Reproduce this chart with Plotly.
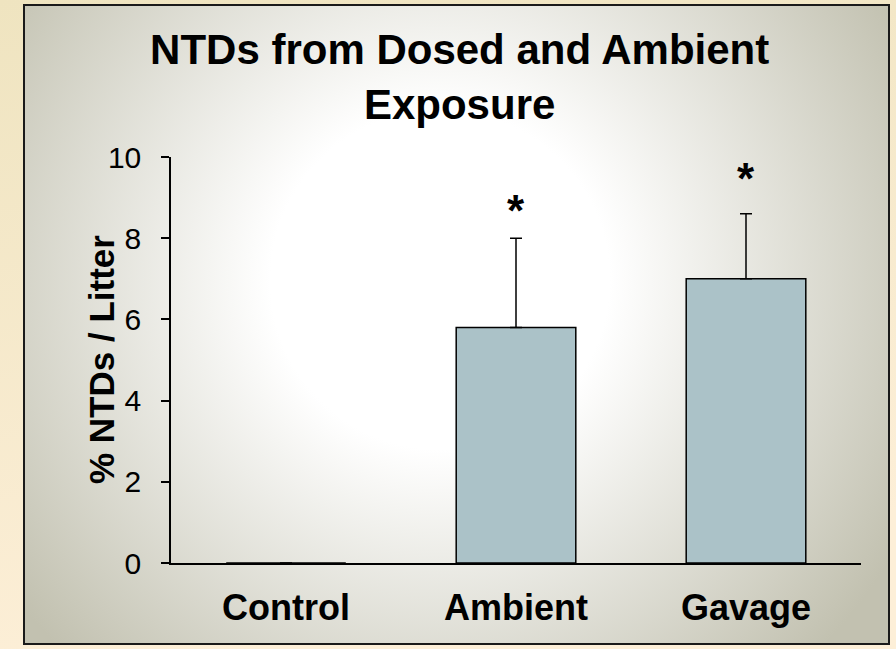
"""Bar chart of NTD rate per litter with one-sided error bars."""

import base64

import plotly.graph_objects as go

# data
categories = ["Control", "Ambient", "Gavage"]
pct_ntds = [0.0, 5.8, 7.0]
err_upper = [0.0, 2.2, 1.6]
significance = ["", "*", "*"]
star_y = [0.0, 8.8, 9.6]  # where the stars sit, in axis units

W, H = 896, 649
margin = dict(l=171, r=35, t=157, b=86)
pw = W - margin["l"] - margin["r"]
ph = H - margin["t"] - margin["b"]

FONT = "Liberation Sans, Arial, sans-serif"
BAR_COLOR = "#abc2c8"


def slide_background():
    """SVG backdrop: cream slide plus a radial-gradient framed panel."""
    svg = f"""<svg xmlns='http://www.w3.org/2000/svg' width='{W}' height='{H}' viewBox='0 0 {W} {H}' preserveAspectRatio='none'>
<defs>
<linearGradient id='cream' x1='0' y1='0' x2='0.3' y2='1'>
<stop offset='0' stop-color='#efe4c0'/><stop offset='1' stop-color='#fdefd8'/>
</linearGradient>
<radialGradient id='panel' gradientUnits='userSpaceOnUse' cx='440' cy='280' r='530'>
<stop offset='0' stop-color='#ffffff'/><stop offset='0.32' stop-color='#ffffff'/>
<stop offset='1' stop-color='#c2c1b0'/>
</radialGradient>
</defs>
<rect x='0' y='0' width='{W}' height='{H}' fill='url(#cream)'/>
<rect x='24' y='5' width='865' height='639' fill='url(#panel)' stroke='#1a1a1a' stroke-width='2'/>
</svg>"""
    return "data:image/svg+xml;base64," + base64.b64encode(svg.encode()).decode()


fig = go.Figure()
fig.add_trace(go.Bar(
    x=categories,
    y=pct_ntds,
    width=0.52,
    marker=dict(color=BAR_COLOR, line=dict(color="black", width=1.5)),
    error_y=dict(type="data", symmetric=False, array=err_upper,
                 arrayminus=[0] * len(err_upper),
                 color="black", thickness=1.5, width=6),
    showlegend=False,
))

# significance stars above the error bars
for cat, sy, sig in zip(categories, star_y, significance):
    if sig:
        fig.add_annotation(x=cat, y=sy, text=f"<b>{sig}</b>", showarrow=False,
                           yanchor="middle", yshift=-5,
                           font=dict(family=FONT, size=44, color="black"))

# y axis title placed by hand, the way the slide has it
fig.add_annotation(x=(101 - margin["l"]) / pw, y=0.5, xref="paper", yref="paper",
                   xanchor="center", yanchor="middle",
                   text="<b>% NTDs / Litter</b>", textangle=-90, showarrow=False,
                   font=dict(family=FONT, size=35, color="black"))

fig.add_layout_image(dict(
    source=slide_background(), xref="paper", yref="paper",
    x=-margin["l"] / pw, y=1 + margin["t"] / ph,
    sizex=W / pw, sizey=H / ph, sizing="stretch",
    xanchor="left", yanchor="top", layer="below",
))

fig.update_layout(
    width=W, height=H, margin=margin,
    paper_bgcolor="#f7ecd2", plot_bgcolor="rgba(0,0,0,0)",
    title=dict(text="<b>NTDs from Dosed and Ambient<br>Exposure</b>",
               x=0.513, xanchor="center", y=1 - 64 / H, yanchor="top",
               font=dict(family=FONT, size=42, color="black")),
    font=dict(family=FONT, color="black"),
)
fig.update_xaxes(showline=True, linecolor="black", linewidth=1.5, ticks="",
                 showgrid=False, range=[-0.5, 2.5],
                 tickfont=dict(family=FONT, size=36, color="black"),
                 tickprefix="<b>", ticksuffix="</b>",
                 ticklabelstandoff=12)
fig.update_yaxes(range=[0, 10], dtick=2, showline=True, linecolor="black", linewidth=1.5,
                 ticks="outside", ticklen=8, tickwidth=1.5, tickcolor="black",
                 showgrid=False, zeroline=False,
                 tickfont=dict(family=FONT, size=30, color="black"),
                 ticklabelstandoff=14)

fig.write_html("out.html", config={"displayModeBar": False},
               post_script="document.body.style.margin='0';")
